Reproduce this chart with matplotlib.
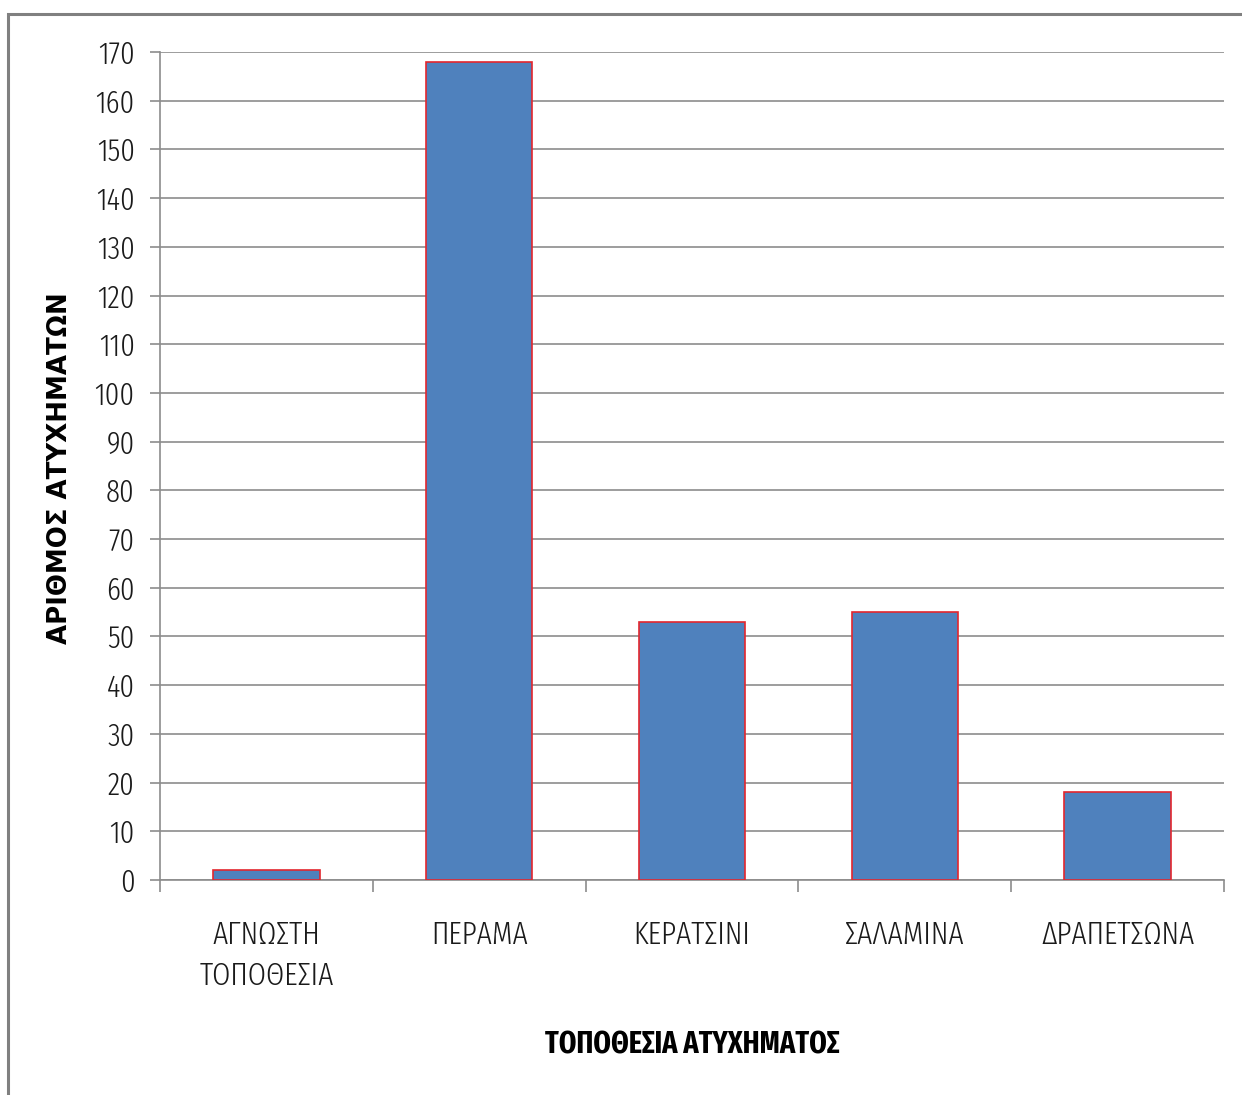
import matplotlib
matplotlib.use("Agg")
import matplotlib.pyplot as plt
from matplotlib.patches import Rectangle
import numpy as np

categories = ["ΑΓΝΩΣΤΗ\nΤΟΠΟΘΕΣΙΑ", "ΠΕΡΑΜΑ", "ΚΕΡΑΤΣΙΝΙ", "ΣΑΛΑΜΙΝΑ", "ΔΡΑΠΕΤΣΩΝΑ"]
values = [2, 168, 53, 55, 18]
yticks = list(range(0, 171, 10))
ylabel = "ΑΡΙΘΜΟΣ ΑΤΥΧΗΜΑΤΩΝ"
xlabel = "ΤΟΠΟΘΕΣΙΑ ΑΤΥΧΗΜΑΤΟΣ"

W, H = 1242, 1095
fig = plt.figure(figsize=(W / 100, H / 100), dpi=100)
ax = fig.add_axes([160 / W, 1 - 880 / H, (1224 - 160) / W, (880 - 52) / H])

narrow = ["Fira Sans Extra Condensed", "DejaVu Sans"]
grid_c = "#8c8c8c"
txt_c = "#1a1a1a"

x = np.arange(len(categories))
ax.bar(x, values, width=0.5, color="#4F81BD", edgecolor="#E3262E", linewidth=1.2, zorder=3)

ax.set_xlim(-0.5, len(categories) - 0.5)
ax.set_ylim(0, 170)
ax.set_yticks(yticks)
ax.set_yticklabels([str(t) for t in yticks], fontfamily=narrow, fontweight=300,
                   fontsize=22.5, color=txt_c)
ax.yaxis.grid(True, color=grid_c, linewidth=1.2, zorder=0)
ax.set_axisbelow(True)

ax.set_xticks(x)
ax.set_xticklabels(categories, fontfamily=narrow, fontweight=300, fontsize=23,
                   color=txt_c, linespacing=1.47)
ax.set_xticks(np.arange(-0.5, len(categories)), minor=True)
ax.tick_params(axis="x", which="major", length=0, pad=28.5)
ax.tick_params(axis="x", which="minor", length=8.6, color=grid_c, width=1.2)
ax.tick_params(axis="y", length=7.2, color=grid_c, width=1.2, pad=11)

for s in ["top", "right"]:
    ax.spines[s].set_visible(False)
for s in ["left", "bottom"]:
    ax.spines[s].set_color(grid_c)
    ax.spines[s].set_linewidth(1.2)

fig.text(67 / W, 1 - 468 / H, ylabel, rotation=90, rotation_mode="anchor",
         ha="center", va="baseline",
         fontfamily=["DejaVu Sans"], fontweight="bold", fontsize=18.7, color="#000000")
fig.text(692 / W, 1 - 1053 / H, xlabel, ha="center", va="baseline",
         fontfamily=narrow, fontweight="bold", fontsize=22, color="#000000")

fig.patches.append(Rectangle((8 / W, -0.05), 1.2, 1 - 14 / H + 0.05, transform=fig.transFigure,
                             fill=False, edgecolor="#808080", linewidth=2.2, figure=fig))

fig.savefig("out.png", dpi=100)
